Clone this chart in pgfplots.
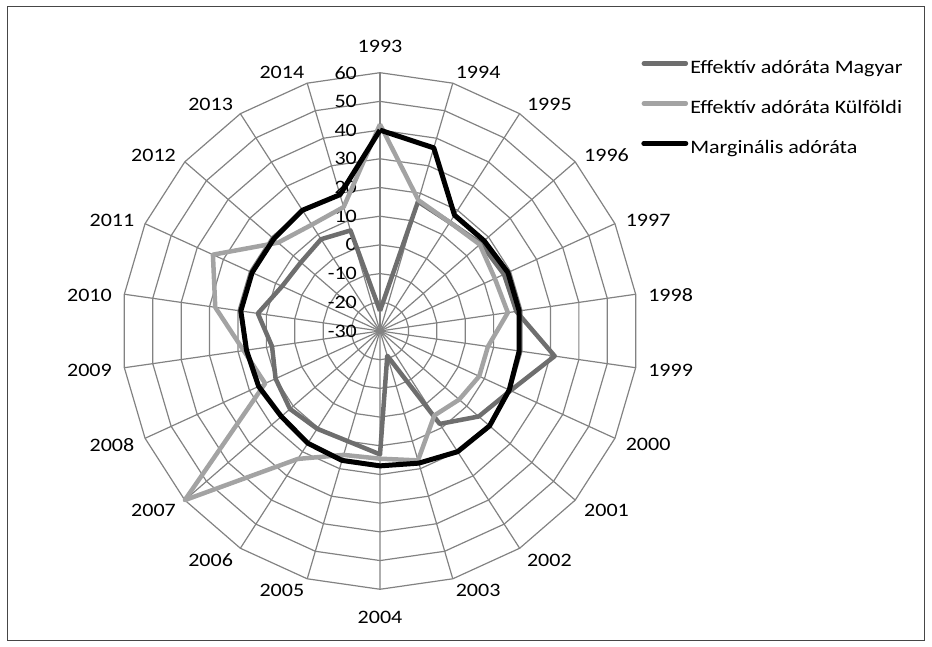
\documentclass[border=0pt]{standalone}
\usepackage{fontspec}
\setmainfont{Carlito}[FakeStretch=1.16]
\usepackage{pgfplots}
\pgfplotsset{compat=1.18}
\usepackage{pgfplotstable}
\definecolor{magyar}{RGB}{110,110,110}
\definecolor{kulf}{RGB}{163,163,163}
\definecolor{gridc}{RGB}{130,130,130}
\definecolor{framec}{RGB}{70,70,70}
\newcommand{\bigf}{\fontsize{19}{22}\selectfont}

% k = position of the year (0 = 1993 ... 21 = 2014, 22 closes the polygon)
\pgfplotstableread{
k  year mag  kul  mar
0  1993 -23  42   40
1  1994 17   17.5 36.5
2  1995 15   15   18
3  1996 16.5 16   18
4  1997 17.5 14   19
5  1998 18   15   19
6  1999 31.5 8    19
7  2000 20   8    19.5
8  2001 15.5 6.5  20.5
9  2002 8.5  5    20
10 2003 -21  17   18
11 2004 13   14.5 17
12 2005 10   15   17
13 2006 10.5 23   16.5
14 2007 11.5 60   15.5
15 2008 10   14   16.5
16 2009 8    18   17
17 2010 13   28   19
18 2011 7.5  34   19
19 2012 6.5  17   19
20 2013 8    14   20
21 2014 6.5  15   19.5
22 1993 -23  42   40
}\radar

\begin{document}
\begin{tikzpicture}[font=\bigf, every node/.append style={font=\bigf}]
\begin{axis}[
  x=2.87pt, y=2.87pt,
  xmin=-129.62, xmax=189.55, ymin=-108.01, ymax=112.89,
  axis lines=box, xtick=\empty, ytick=\empty,
  axis line style={draw=framec, line width=1pt},
  clip=false,
  legend style={at={(axis cs:91.05,94.43)}, anchor=north west, draw=none, fill=none,
    inner sep=0pt, outer sep=0pt, row sep=21pt, column sep=1pt, font=\bigf,
    nodes={inner sep=1pt, text height=13pt, text depth=4pt, font=\bigf}},
  legend cell align=left,
  legend image code/.code={\draw[#1, line cap=round] (0pt,6pt) -- (42pt,6pt);},
]
\pgfplotsextra{
  \foreach \r in {10,20,...,90} {
    \draw[gridc, line width=1.2pt] (axis cs:0,\r)
      \foreach \k in {1,...,21} { -- (axis cs:{\r*sin(\k*360/22)},{\r*cos(\k*360/22)}) } -- cycle;
  }
  \foreach \k in {0,...,21} {
    \draw[gridc, line width=1.2pt] (axis cs:0,0) -- (axis cs:{90*sin(\k*360/22)},{90*cos(\k*360/22)});
  }
  \foreach \v [count=\i from 0] in {-30,-20,...,60} {
    \node[anchor=east, inner sep=0pt, font=\bigf] at (axis cs:-8,{\i*10}) {\v};
  }
  \node at (axis cs:0,99.23) {1993};
  \node at (axis cs:34.18,90.17) {1994};
  \node at (axis cs:59.02,79.09) {1995};
  \node at (axis cs:78.92,61.22) {1996};
  \node at (axis cs:93.41,38.40) {1997};
  \node at (axis cs:101.25,12.54) {1998};
  \node at (axis cs:101.25,-13.62) {1999};
  \node at (axis cs:93.41,-39.65) {2000};
  \node at (axis cs:78.92,-62.65) {2001};
  \node at (axis cs:59.02,-79.79) {2002};
  \node at (axis cs:34.18,-90.56) {2003};
  \node at (axis cs:0,-99.90) {2004};
  \node at (axis cs:-34.18,-90.56) {2005};
  \node at (axis cs:-59.02,-79.79) {2006};
  \node at (axis cs:-78.92,-62.65) {2007};
  \node at (axis cs:-93.41,-39.65) {2008};
  \node at (axis cs:-101.25,-13.62) {2009};
  \node at (axis cs:-101.25,12.54) {2010};
  \node at (axis cs:-93.41,38.40) {2011};
  \node at (axis cs:-78.92,61.22) {2012};
  \node at (axis cs:-59.02,79.09) {2013};
  \node at (axis cs:-34.18,90.17) {2014};
}
\addplot[magyar, line width=4.5pt, line join=round] table[
  x expr={(\thisrow{mag}+30)*sin(\thisrow{k}*360/22)},
  y expr={(\thisrow{mag}+30)*cos(\thisrow{k}*360/22)}] {\radar};
\addlegendentry{Effektív adóráta Magyar}
\addplot[kulf, line width=4.5pt, line join=round] table[
  x expr={(\thisrow{kul}+30)*sin(\thisrow{k}*360/22)},
  y expr={(\thisrow{kul}+30)*cos(\thisrow{k}*360/22)}] {\radar};
\addlegendentry{Effektív adóráta Külföldi}
\addplot[black, line width=5pt, line join=round] table[
  x expr={(\thisrow{mar}+30)*sin(\thisrow{k}*360/22)},
  y expr={(\thisrow{mar}+30)*cos(\thisrow{k}*360/22)}] {\radar};
\addlegendentry{Marginális adóráta}
\end{axis}
\path ([xshift=-8pt,yshift=-6pt]current axis.south west) rectangle ([xshift=8pt,yshift=7pt]current axis.north east);
\end{tikzpicture}
\end{document}
